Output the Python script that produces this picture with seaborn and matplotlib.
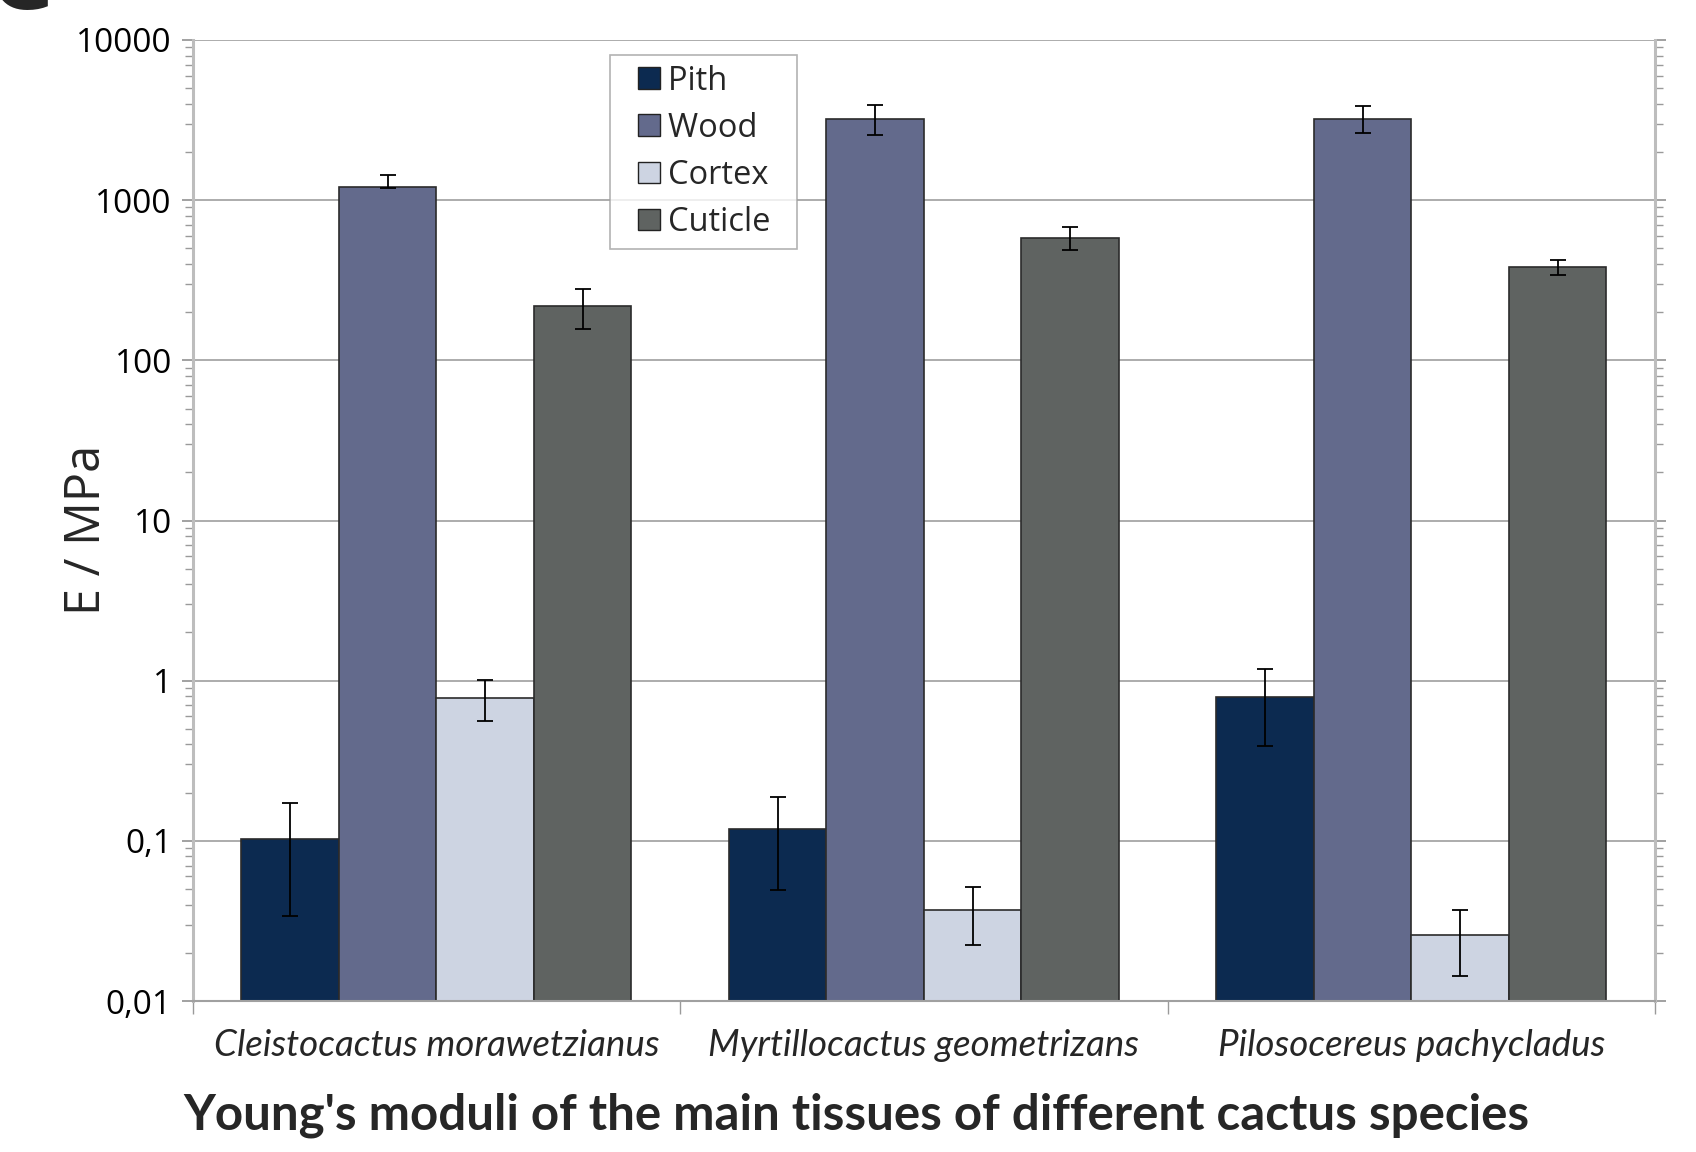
import numpy as np
import pandas as pd
import matplotlib
matplotlib.use("Agg")
import matplotlib.pyplot as plt
from matplotlib.ticker import FuncFormatter, LogLocator, FixedLocator, NullFormatter
from matplotlib.patches import Rectangle
from matplotlib.legend_handler import HandlerPatch
import seaborn as sns

# ---- data ----
species = ["Cleistocactus morawetzianus", "Myrtillocactus geometrizans", "Pilosocereus pachycladus"]
tissues = ["Pith", "Wood", "Cortex", "Cuticle"]

pith = [0.103, 0.119, 0.79]
pith_lo = [0.034, 0.049, 0.39]
pith_hi = [0.172, 0.189, 1.19]

wood = [1215, 3210, 3210]
wood_lo = [1190, 2540, 2620]
wood_hi = [1435, 3930, 3870]

cortex = [0.78, 0.037, 0.0258]
cortex_lo = [0.56, 0.0224, 0.0143]
cortex_hi = [1.01, 0.0512, 0.037]

cuticle = [218, 581, 381]
cuticle_lo = [157, 489, 342]
cuticle_hi = [279, 677, 425]

ytick_values = [0.01, 0.1, 1, 10, 100, 1000, 10000]

colors = ["#0c2a50", "#636a8c", "#cdd4e2", "#5f6361"]

values = {"Pith": pith, "Wood": wood, "Cortex": cortex, "Cuticle": cuticle}
lows = {"Pith": pith_lo, "Wood": wood_lo, "Cortex": cortex_lo, "Cuticle": cuticle_lo}
highs = {"Pith": pith_hi, "Wood": wood_hi, "Cortex": cortex_hi, "Cuticle": cuticle_hi}

rows = []
for t in tissues:
    for s, v in zip(species, values[t]):
        rows.append({"species": s, "tissue": t, "E": v})
df = pd.DataFrame(rows)

# ---- style ----
sns.set_style("white")
plt.rcParams["font.family"] = ["Open Sans", "DejaVu Sans"]

fig = plt.figure(figsize=(16.96, 11.52), dpi=100)
L, R, T, B = 192.7, 1655.0, 40.0, 1001.0
ax = fig.add_axes([L / 1696, 1 - B / 1152, (R - L) / 1696, (B - T) / 1152])

sns.barplot(data=df, x="species", y="E", hue="tissue", order=species, hue_order=tissues,
            palette=colors, saturation=1, errorbar=None, width=0.8,
            edgecolor="#2b2b2b", linewidth=1.2, ax=ax, legend=True)
ax.set_yscale("log", nonpositive="clip")

# error bars attached to the drawn bars
for t, cont in zip(tissues, ax.containers):
    xs = [p.get_x() + p.get_width() / 2 for p in cont.patches]
    v = np.array(values[t])
    lo = np.array(lows[t])
    hi = np.array(highs[t])
    ax.errorbar(xs, v, yerr=[v - lo, hi - v], fmt="none", ecolor="black",
                elinewidth=1.3, capsize=5.5, capthick=1.3, zorder=5)

ax.set_ylim(0.01, 10000)
ax.set_xlim(-0.5, 2.5)

# y axis ticks
ax.yaxis.set_major_locator(FixedLocator(ytick_values))
ax.yaxis.set_minor_locator(LogLocator(base=10, subs=np.arange(2, 10), numticks=20))
ax.yaxis.set_minor_formatter(NullFormatter())

def fmt(v, pos):
    if v >= 1:
        return f"{int(round(v))}"
    return f"{v:g}".replace(".", ",")

ax.yaxis.set_major_formatter(FuncFormatter(fmt))
tick_grey = "#9a9a9a"
ax.tick_params(axis="y", which="major", left=True, right=True, direction="out",
               length=8, width=1.3, color=tick_grey, labelsize=24, pad=7, labelcolor="black")
ax.tick_params(axis="y", which="minor", left=True, right=True, direction="out",
               length=6, width=1.0, color=tick_grey)

# x axis: category separators as minor ticks
ax.set_xticks([0, 1, 2])
ax.set_xticks([-0.5, 0.5, 1.5, 2.5], minor=True)
ax.tick_params(axis="x", which="major", length=0, pad=20)
ax.tick_params(axis="x", which="minor", bottom=True, length=9, width=1.0, color=tick_grey, direction="out")
for lab in ax.get_xticklabels():
    lab.set_fontfamily(["Lato", "DejaVu Sans"])
    lab.set_fontstyle("italic")
    lab.set_fontsize(26.5)

ax.set_xlabel("")
ax.set_ylabel("E / MPa", fontsize=35)
ax.yaxis.set_label_coords((112 - L) / (R - L), (B - 530) / (B - T))

# grid and spines
ax.grid(axis="y", which="major", color="#a6a6a6", linewidth=1.3)
ax.grid(axis="x", visible=False)
ax.set_axisbelow(True)
for side in ["left", "right"]:
    ax.spines[side].set_color("#bdbdbd")
    ax.spines[side].set_linewidth(2.2)
ax.spines["bottom"].set_color("#a0a0a0")
ax.spines["bottom"].set_linewidth(1.5)
ax.spines["top"].set_visible(False)

# legend with square handles set towards the text
FS = 23.5
SQ = 15.8      # square side in points
OFF = 13.1     # extra left inset of the square, points

def square_patch(legend, orig_handle, xdescent, ydescent, width, height, fontsize):
    return Rectangle((-xdescent + width - SQ, -ydescent + (height - SQ) / 2), SQ, SQ)

handles, labels = ax.get_legend_handles_labels()
labels = [lab + "  " for lab in labels]
leg = ax.legend(handles, labels, loc="upper left",
                bbox_to_anchor=((610 - L) / (R - L), (B - 55) / (B - T)),
                fontsize=FS, frameon=True, fancybox=False, shadow=False,
                handlelength=(SQ + OFF) / FS, handleheight=0.75, handletextpad=0.25,
                labelspacing=0.43, borderpad=0.3, borderaxespad=0, title=None,
                handler_map={Rectangle: HandlerPatch(patch_func=square_patch)})
leg.get_frame().set_edgecolor("#a0a0a0")
leg.get_frame().set_linewidth(1.2)
for h in leg.legend_handles:
    h.set_edgecolor("#222222")
    h.set_linewidth(1.0)

# title below
fig.text(856 / 1696, 1 - 1115 / 1152, "Young's moduli of the main tissues of different cactus species",
         ha="center", va="center", fontsize=35.5, fontweight="bold", family=["Lato", "DejaVu Sans"])

# cropped panel letter at top-left
fig.text(-12 / 1696, 1 - 9 / 1152, "C", ha="left", va="baseline", fontsize=75, fontweight="bold")

fig.savefig("out.png", dpi=100)
